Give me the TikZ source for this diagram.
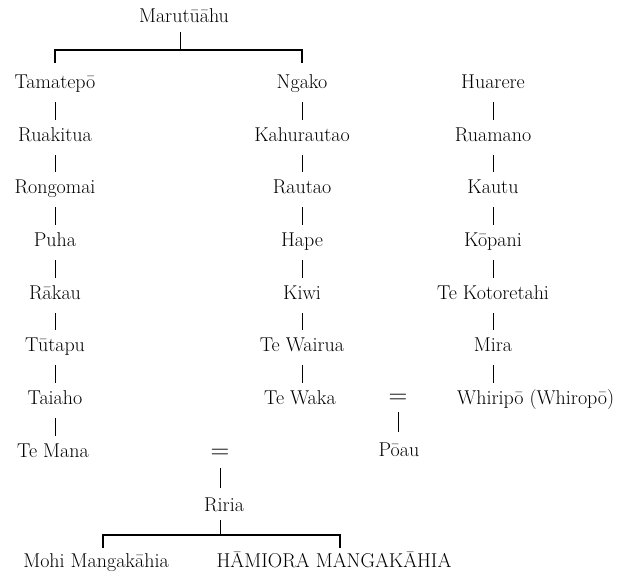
\documentclass[tikz,border=0pt]{standalone}
\usepackage{fontspec}
\begin{document}
\begin{tikzpicture}[x=1pt,y=-1pt,
  every node/.style={inner sep=0pt, text height=13pt, text depth=4pt, font=\fontsize{20}{24}\selectfont},
  tick/.style={line width=0.9pt, shorten <=18pt, shorten >=17pt},
  bar/.style={line width=1.3pt},
  eqsign/.style={font=\fontsize{26}{28}\selectfont, text height=10pt, text depth=0pt}]
\useasboundingbox (0,0) rectangle (630,581);
% top
\node (m) at (184,18) {Marutūāhu};
\coordinate (mj) at (180,50);
\coordinate (bl) at (55,50);
\coordinate (br) at (302,50);
\coordinate (dl) at (55,63);
\coordinate (dr) at (302,63);
\coordinate (mt) at (180,32);
\draw[line width=0.9pt] (mt) -- (mj);
\draw[bar] (dl) -- (bl) -- (br) -- (dr);
% column 1
\node (a1) at (55,84) {Tamatepō};
\node (a2) at (55,137) {Ruakitua};
\node (a3) at (55,189) {Rongomai};
\node (a4) at (55,242) {Puha};
\node (a5) at (55,295) {Rākau};
\node (a6) at (55,347) {Tūtapu};
\node (a7) at (55,400) {Taiaho};
\node (a8) at (53,453) {Te Mana};
% column 2
\node (b1) at (302,84) {Ngako};
\node (b2) at (302,137) {Kahurautao};
\node (b3) at (302,189) {Rautao};
\node (b4) at (302,242) {Hape};
\node (b5) at (302,295) {Kiwi};
\node (b6) at (302,347) {Te Wairua};
\node (b7) at (300,400) {Te Waka};
% column 3
\node (c1) at (493,84) {Huarere};
\node (c2) at (493,137) {Ruamano};
\node (c3) at (493,189) {Kautu};
\node (c4) at (493,242) {Kōpani};
\node (c5) at (493,295) {Te Kotoretahi};
\node (c6) at (493,347) {Mira};
\node[anchor=west] (c7) at (457,400) {Whiripō (Whiropō)};
% connector end points on the column axes
\coordinate (b7t) at (302,400);
\coordinate (c7t) at (493,400);
\coordinate (a8t) at (55,453);
\foreach \p/\q in {a1/a2,a2/a3,a3/a4,a4/a5,a5/a6,a6/a7,a7/a8t,b1/b2,b2/b3,b3/b4,b4/b5,b5/b6,b6/b7t,c1/c2,c2/c3,c3/c4,c4/c5,c5/c6,c6/c7t}
  \draw[tick] (\p.center) -- (\q.center);
% marriages
\node[eqsign] (e1) at (398,398) {=};
\node (p) at (399,452) {Pōau};
\coordinate (e1t) at (398,412);
\coordinate (pt) at (398,432);
\draw[line width=0.9pt] (e1t) -- (pt);
\node[eqsign] (e2) at (220,453) {=};
\coordinate (e2t) at (220,468);
\coordinate (rt) at (220,488);
\draw[line width=0.9pt] (e2t) -- (rt);
\node (r) at (224,507) {Riria};
\coordinate (rb) at (220,520);
\coordinate (rj) at (220,535);
\coordinate (gl) at (103,535);
\coordinate (gr) at (340,535);
\coordinate (gld) at (103,548);
\coordinate (grd) at (340,548);
\draw[line width=0.9pt] (rb) -- (rj);
\draw[bar] (gld) -- (gl) -- (gr) -- (grd);
\node (g1) at (96,563) {Mohi Mangakāhia};
\node (g2) at (334,563) {HĀMIORA MANGAKĀHIA};
\end{tikzpicture}
\end{document}
